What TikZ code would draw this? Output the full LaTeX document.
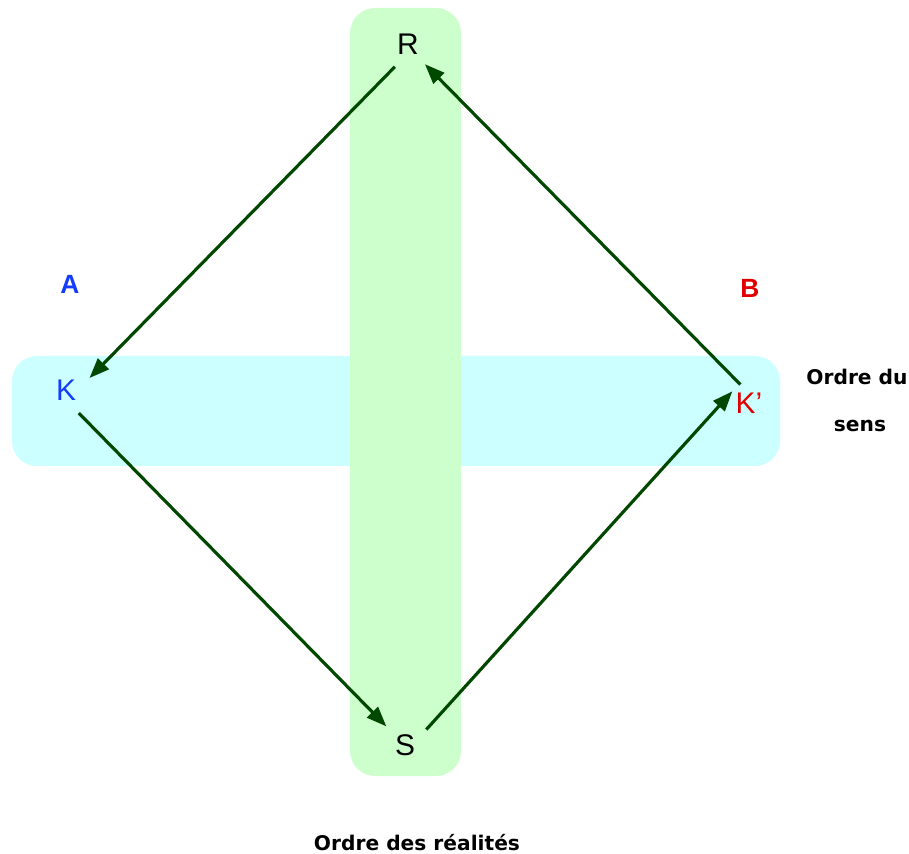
\documentclass[tikz,border=0pt]{standalone}
\usepackage{fontspec}
\setmainfont{Liberation Sans}
\newfontfamily\ordrefont{DejaVu Sans}
\usetikzlibrary{arrows.meta}

\definecolor{bandgreen}{RGB}{204,255,204}
\definecolor{bandcyan}{RGB}{204,255,255}
\definecolor{arrowgreen}{RGB}{0,72,0}
\definecolor{textblue}{RGB}{20,60,255}
\definecolor{textred}{RGB}{225,0,0}

\begin{document}
\begin{tikzpicture}[
    x=0.02cm, y=-0.02cm,
    band/.style={rounded corners=0.5cm},
    lettre/.style={circle, inner sep=0pt, minimum size=1.04cm, font=\fontsize{17}{19}\selectfont},
    side/.style={font=\fontsize{15}{17}\selectfont\bfseries},
    ordre/.style={font=\ordrefont\bfseries\fontsize{11.5}{13}\selectfont, align=center},
    arrow/.style={-{Triangle[length=0.4cm, width=0.3cm]}, line width=1.8pt, draw=arrowgreen}
]
\useasboundingbox (0,0) rectangle (909,854);
\fill[band, bandcyan] (12,356) rectangle (780,466);
\fill[band, bandgreen] (350,8) rectangle (461,776);
\node[lettre] (R) at (408,44) {R};
\node[lettre, textblue] (K) at (66,390) {K};
\node[lettre, textred, minimum size=0.8cm] (Kp) at (749,403) {K’};
\node[lettre] (S) at (405,745) {S};
\node[side, textblue] (A) at (70,284) {A};
\node[side, textred] (B) at (750,288) {B};
\node[ordre] (sens1) at (857,377) {Ordre du};
\node[ordre] (sens2) at (860,426) {sens};
\node[ordre] (realites) at (417,843) {Ordre des réalités};
\draw[arrow] (R.240) -- (K.27);
\draw[arrow] (K.299) -- (S.135);
\draw[arrow] (S.36) -- (Kp.145);
\draw[arrow] (Kp.115) -- (R.310);
\end{tikzpicture}
\end{document}
